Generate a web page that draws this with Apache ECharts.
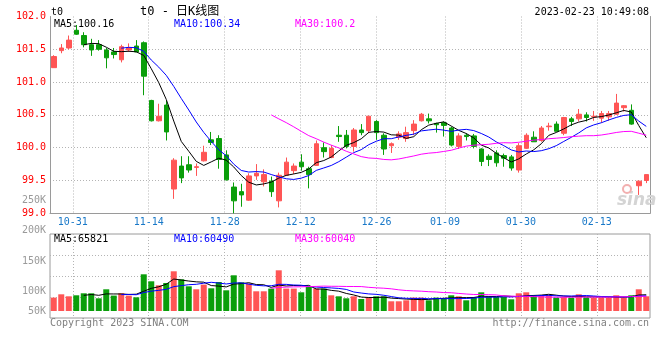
<!DOCTYPE html>
<html><head><meta charset="utf-8">
<script src="https://cdn.jsdelivr.net/npm/echarts@6/dist/echarts.min.js"></script>
<style>html,body{margin:0;padding:0;background:#fff}#c{width:660px;height:360px}</style>
</head><body><div id="c"></div>
<script>
// ---------- data ----------
const dates = ['10-26','10-27','10-28','10-31',
'11-01','11-02','11-03','11-04','11-07','11-08','11-09','11-10','11-11','11-14','11-15','11-16','11-17','11-18','11-21','11-22','11-23','11-24','11-25','11-28','11-29','11-30',
'12-01','12-02','12-05','12-06','12-07','12-08','12-09','12-12','12-13','12-14','12-15','12-16','12-19','12-20','12-21','12-22','12-23','12-26','12-27','12-28','12-29','12-30',
'01-03','01-04','01-05','01-06','01-09','01-10','01-11','01-12','01-13','01-16','01-17','01-18','01-19','01-20','01-30','01-31',
'02-01','02-02','02-03','02-06','02-07','02-08','02-09','02-10','02-13','02-14','02-15','02-16','02-17','02-20','02-21','02-22'];
const tickDates = ['10-31','11-14','11-28','12-12','12-26','01-09','01-30','02-13'];

const opens = [101.22,101.48,101.52,101.79,101.71,101.57,101.57,101.49,101.46,101.34,
101.49,101.55,101.60,100.72,100.41,100.65,99.37,99.72,99.74,99.70,
99.80,100.12,100.14,99.89,99.40,99.33,99.20,99.57,99.48,99.49,
99.19,99.58,99.65,99.78,99.68,99.73,100.00,99.85,100.19,100.19,
100.02,100.27,100.26,100.40,100.19,100.03,100.16,100.14,100.26,100.41,
100.44,100.37,100.38,100.30,100.02,100.19,100.18,99.98,99.87,99.92,
99.88,99.86,99.66,99.99,100.16,100.11,100.32,100.36,100.22,100.44,
100.44,100.50,100.47,100.45,100.47,100.51,100.61,100.57,99.42,99.50];
const closes = [101.39,101.52,101.64,101.73,101.57,101.49,101.50,101.37,101.42,101.54,
101.52,101.46,101.09,100.41,100.48,100.24,99.81,99.54,99.66,99.71,
99.93,100.08,99.82,99.51,99.19,99.28,99.57,99.61,99.59,99.33,
99.58,99.78,99.72,99.71,99.59,100.06,99.94,99.99,100.17,100.02,
100.27,100.23,100.48,100.23,99.98,100.06,100.21,100.23,100.36,100.51,
100.41,100.35,100.34,100.04,100.18,100.17,100.02,99.79,99.82,99.77,
99.84,99.69,100.03,100.19,100.09,100.30,100.33,100.25,100.46,100.40,
100.51,100.46,100.48,100.52,100.52,100.68,100.64,100.36,99.49,99.59];
const lows = [101.22,101.44,101.50,101.72,101.53,101.40,101.48,101.21,101.36,101.30,
101.46,101.46,100.80,100.40,100.40,100.11,99.22,99.46,99.62,99.57,
99.79,100.04,99.68,99.50,99.00,99.10,99.19,99.51,99.41,99.25,
99.09,99.57,99.60,99.65,99.38,99.73,99.85,99.84,100.09,99.99,
99.94,100.19,100.22,100.12,99.89,99.92,100.12,100.09,100.19,100.40,
100.37,100.23,100.17,100.02,99.98,100.11,99.99,99.72,99.72,99.71,
99.71,99.65,99.62,99.98,100.09,100.09,100.26,100.25,100.19,100.33,
100.40,100.40,100.41,100.38,100.41,100.50,100.55,100.35,99.28,99.46];
const highs = [101.41,101.58,101.71,101.87,101.76,101.66,101.64,101.52,101.52,101.57,
101.59,101.64,101.62,100.73,100.67,100.72,99.84,99.87,99.87,99.76,
100.03,100.24,100.19,99.96,99.47,99.45,99.61,99.75,99.67,99.56,
99.62,99.85,99.76,99.90,99.71,100.11,100.08,100.04,100.33,100.27,
100.30,100.36,100.48,100.42,100.22,100.08,100.25,100.32,100.42,100.53,
100.52,100.38,100.40,100.32,100.22,100.22,100.21,99.99,99.90,99.96,
99.91,99.89,100.07,100.22,100.25,100.33,100.38,100.40,100.47,100.47,
100.59,100.54,100.56,100.56,100.56,100.82,100.65,100.66,99.50,99.59];

const ma5 = ['-','-','-','-',101.570,101.590,101.586,101.532,101.470,101.464,
101.470,101.462,101.406,101.204,100.992,100.736,100.406,100.096,99.946,99.792,
99.730,99.784,99.840,99.810,99.706,99.576,99.474,99.432,99.448,99.476,
99.536,99.578,99.600,99.624,99.676,99.772,99.804,99.858,99.950,100.036,
100.078,100.136,100.234,100.246,100.238,100.196,100.192,100.142,100.168,100.274,
100.344,100.372,100.394,100.330,100.264,100.216,100.150,100.040,99.996,99.914,
99.848,99.782,99.830,99.904,99.968,100.060,100.188,100.232,100.286,100.348,
100.390,100.416,100.462,100.474,100.498,100.532,100.568,100.544,100.338,100.152];
const ma10 = ['-','-','-','-','-','-','-','-','-',101.517,
101.530,101.524,101.469,101.337,101.228,101.103,100.934,100.751,100.575,100.392,
100.233,100.095,99.968,99.878,99.749,99.653,99.629,99.636,99.629,99.591,
99.556,99.526,99.516,99.536,99.576,99.654,99.691,99.729,99.787,99.856,
99.925,99.970,100.046,100.098,100.137,100.137,100.164,100.188,100.207,100.256,
100.270,100.282,100.268,100.249,100.269,100.280,100.261,100.217,100.163,100.089,
100.032,99.966,99.935,99.950,99.941,99.954,99.985,100.031,100.095,100.158,
100.225,100.302,100.347,100.380,100.423,100.461,100.492,100.503,100.406,100.325];
const ma30 = ['-','-','-','-','-','-','-','-','-','-',
'-','-','-','-','-','-','-','-','-','-',
'-','-','-','-','-','-','-','-','-',100.500,
100.440,100.382,100.318,100.250,100.184,100.137,100.085,100.039,99.997,99.946,
99.905,99.864,99.843,99.837,99.821,99.815,99.828,99.851,99.874,99.901,
99.917,99.926,99.943,99.961,99.994,100.024,100.039,100.045,100.052,100.067,
100.076,100.073,100.083,100.099,100.116,100.124,100.137,100.145,100.155,100.168,
100.176,100.183,100.183,100.193,100.211,100.232,100.246,100.250,100.221,100.191];

const volumes = [54300,67600,59500,63600,71700,71700,51400,87900,62400,71700,
62400,55500,148600,120300,104100,113400,160800,128400,100000,87900,
106900,91900,117500,83800,144600,116200,111000,79800,79800,90700,
164800,90700,90700,75700,97200,90700,90700,63600,59500,51400,
59500,48600,54300,59500,59500,39300,39300,43300,54300,54300,
43300,54300,50200,63600,59500,43300,56700,75700,59500,56700,
56700,47400,71700,75700,63600,63600,63600,54300,56700,54300,
67600,54300,54300,54300,54300,63600,54300,63600,87900,59500];
const volMa5 = ['-','-','-','-',63340,66820,63580,69260,69020,69020,
67160,67980,80120,91700,98180,108380,129440,125400,121340,118100,
116800,103020,100840,97600,108940,110800,114620,107080,106280,95500,
105220,101160,103340,102520,103820,89000,89000,83580,80340,71180,
64940,56520,54660,54660,56280,52240,50380,48180,47140,46100,
46900,49900,51280,53140,54180,54180,54660,59760,58940,58380,
61060,59200,58400,61640,63020,64400,67640,64160,60360,58500,
59300,57440,57440,56960,56960,56160,56160,58020,64740,65780];
const volMa10 = ['-','-','-','-','-','-','-','-','-',66180,
66990,65780,74690,80360,83600,87770,98710,102760,106520,108140,
112590,116230,113120,109470,113520,113800,108820,103960,101940,102220,
108010,107890,105210,104400,99660,97110,95080,93460,91430,87500,
76970,72760,69120,67500,63730,58590,53450,51420,50900,51190,
49570,50140,49730,50140,50140,50540,52280,55520,56040,56280,
57620,56930,59080,60290,60700,62730,63420,61280,61000,60760,
61850,62540,60800,58660,57730,57730,56800,57730,60850,61370];
const volMa30 = ['-','-','-','-','-','-','-','-','-','-',
'-','-','-','-','-','-','-','-','-','-',
'-','-','-','-','-','-','-','-','-',92180,
95860,96630,97670,98080,98930,99560,100870,100060,99960,99290,
99190,98960,95820,93790,92300,89830,85780,82950,81420,80300,
78180,76930,74690,74010,71180,68750,66940,66800,66120,64990,
61390,59940,59310,59310,58190,57290,56380,56070,55980,56080,
56350,56540,56540,56360,56190,57000,57500,58180,59300,59470];

const priceMaText = ['MA5:100.16','MA10:100.34','MA30:100.2'];
const volMaText = ['MA5:65821','MA10:60490','MA30:60040'];
const titleText = 't0 - 日K线图';
const codeText = 't0';
const timeText = '2023-02-23 10:49:08';
const copyText = 'Copyright 2023 SINA.COM';
const urlText = 'http://finance.sina.com.cn';

// ---------- style ----------
const FONT = 'DejaVu Sans Mono';
const RED = '#ff5555';
const GREEN = '#0a9e0a';
const GRID = '#b4b4b4';
const NONE = 'rgba(0,0,0,0)';
const AXIS = '#9a9a9a';
const MA_COLORS = ['#000000', '#0000ff', '#ff00ff'];
const dot = [1, 2];

const isTick = (i, v) => tickDates.indexOf(v) >= 0;

const chart = echarts.init(document.getElementById('c'), null, {renderer: 'canvas'});

function maLine(data, color, xi, yi) {
  return {type: 'line', data: data, xAxisIndex: xi, yAxisIndex: yi, symbol: 'none',
    lineStyle: {color: color, width: 1}, itemStyle: {color: color}, silent: true, z: 5};
}
function txt(x, y, text, color, align, size) {
  return {type: 'text', x: x, y: y, silent: true, z: 100,
    style: {text: text, fill: color, font: (size || 10) + 'px "' + FONT + '", "Noto Sans CJK SC"',
      align: align || 'left', verticalAlign: 'middle'}};
}

const option = {
  animation: false,
  backgroundColor: '#ffffff',
  grid: [
    {left: 50, right: 10, top: 16.5, height: 196.8},
    {left: 50, right: 10, top: 234, height: 84, show: true, borderColor: AXIS, borderWidth: 1, backgroundColor: 'transparent'},
    {left: 50, right: 10, top: 200, height: 122}
  ],
  xAxis: [
    {gridIndex: 0, type: 'category', data: dates, boundaryGap: true, position: 'top',
      axisLine: {show: false}, axisTick: {show: false}, axisLabel: {show: false}, splitLine: {show: false}},
    {gridIndex: 0, type: 'category', data: dates, boundaryGap: false, position: 'bottom',
      axisLine: {show: true, lineStyle: {color: AXIS, width: 1}}, axisTick: {show: false},
      axisLabel: {interval: isTick, color: '#1878c8', fontFamily: FONT, fontSize: 10, margin: 4},
      splitLine: {show: true, interval: isTick, lineStyle: {color: GRID, width: 1, type: dot}}},
    {gridIndex: 1, type: 'category', data: dates, boundaryGap: true, position: 'top',
      axisLine: {show: false}, axisTick: {show: false}, axisLabel: {show: false}, splitLine: {show: false}},
    {gridIndex: 1, type: 'category', data: dates, boundaryGap: false, position: 'bottom',
      axisLine: {show: false}, axisTick: {show: false}, axisLabel: {show: false},
      splitLine: {show: true, interval: isTick, lineStyle: {color: GRID, width: 1, type: dot}}},
    {gridIndex: 2, type: 'value', show: false}
  ],
  yAxis: [
    {gridIndex: 0, type: 'value', min: 99, max: 102, interval: 0.5, position: 'left',
      axisLine: {show: true, lineStyle: {color: AXIS}}, axisTick: {show: false},
      axisLabel: {color: '#ff0000', fontFamily: FONT, fontSize: 10, margin: 4, formatter: v => v.toFixed(1)},
      splitLine: {show: true, lineStyle: {color: [NONE, GRID, GRID, GRID, GRID, GRID, NONE], width: 1, type: dot}}},
    {gridIndex: 0, type: 'value', min: 99, max: 102, position: 'right',
      axisLine: {show: true, lineStyle: {color: AXIS}}, axisTick: {show: false}, axisLabel: {show: false}, splitLine: {show: false}},
    {gridIndex: 1, type: 'value', min: -28350, max: 311850, position: 'left',
      axisLine: {show: false}, axisTick: {show: false}, axisLabel: {show: false}, splitLine: {show: false}},
    {gridIndex: 1, type: 'value', min: 0, max: 4, interval: 1, position: 'right',
      axisLine: {show: false}, axisTick: {show: false}, axisLabel: {show: false},
      splitLine: {show: true, lineStyle: {color: [NONE, GRID, GRID, GRID, NONE], width: 1, type: dot}}},
    {gridIndex: 2, type: 'value', min: 50000, max: 250000, interval: 50000, position: 'left',
      axisLine: {show: false}, axisTick: {show: false}, splitLine: {show: false},
      axisLabel: {color: '#9a9a9a', fontFamily: FONT, fontSize: 10, margin: 4,
        formatter: v => v === 50000 ? '{low|' + (v / 1000) + 'K}' : (v / 1000) + 'K',
        rich: {low: {padding: [0, 0, 22, 0], color: '#9a9a9a', fontFamily: FONT, fontSize: 10}}}}
  ],
  series: [
    {type: 'candlestick', xAxisIndex: 0, yAxisIndex: 0, barWidth: 5,
      data: opens.map((o, i) => [o, closes[i], lows[i], highs[i]]),
      itemStyle: {color: RED, color0: GREEN, borderColor: RED, borderColor0: GREEN, borderWidth: 1}, z: 3},
    maLine(ma5, MA_COLORS[0], 0, 0),
    maLine(ma10, MA_COLORS[1], 0, 0),
    maLine(ma30, MA_COLORS[2], 0, 0),
    {type: 'bar', xAxisIndex: 2, yAxisIndex: 2, barWidth: 6,
      data: volumes.map((v, i) => ({value: v, itemStyle: {color: closes[i] >= opens[i] ? RED : GREEN}})), z: 3},
    maLine(volMa5, MA_COLORS[0], 2, 2),
    maLine(volMa10, MA_COLORS[1], 2, 2),
    maLine(volMa30, MA_COLORS[2], 2, 2)
  ],
  graphic: [
    txt(51, 12, codeText, '#000'),
    txt(140, 12, titleText, '#000', 'left', 12),
    txt(649, 12, timeText, '#000', 'right'),
    txt(54, 24, priceMaText[0], MA_COLORS[0]),
    txt(174, 24, priceMaText[1], MA_COLORS[1]),
    txt(295, 24, priceMaText[2], MA_COLORS[2]),
    txt(54, 239, volMaText[0], MA_COLORS[0]),
    txt(174, 239, volMaText[1], MA_COLORS[1]),
    txt(295, 239, volMaText[2], MA_COLORS[2]),
    txt(50, 323, copyText, '#808080'),
    txt(649, 323, urlText, '#808080', 'right'),
    {type: 'text', x: 617, y: 201, silent: true, z: 1,
      style: {text: 'sina', fill: '#d4d4d4', font: 'italic bold 17px "DejaVu Sans"', align: 'left', verticalAlign: 'middle'}},
    {type: 'circle', shape: {cx: 627, cy: 189, r: 4}, silent: true, z: 1,
      style: {fill: 'none', stroke: '#f2b0b0', lineWidth: 2}}
  ]
};
chart.setOption(option);
</script>
</body></html>
